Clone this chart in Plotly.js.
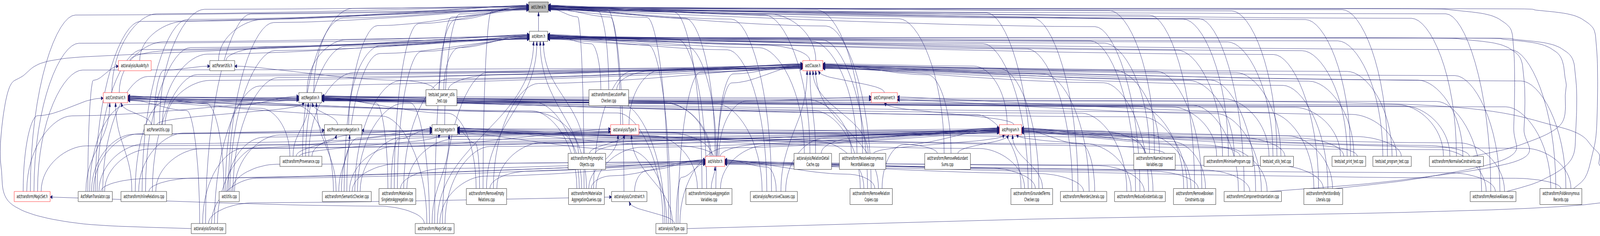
<!DOCTYPE html>
<html>
<head>
<meta charset="utf-8">
<script src="https://cdn.plot.ly/plotly-3.0.1.min.js"></script>
<style>
    html, body { margin: 0; padding: 0; background: #fff; overflow: hidden; }
    #graphDiv { width: 7811px; height: 604px; transform-origin: 0 0; }
</style>
</head>
<body>
<div id="graphDiv"></div>
<script>
// nodes of the "included by" graph of ast/Literal.h
const nodeIds = [
    'literal', 'atom', 'auxArity', 'parserUtilsH', 'clause', 'constraint', 'negation', 'component',
    'parserTest', 'execPlan', 'parserUtilsCpp', 'provNeg', 'aggregator', 'typeH', 'program',
    'provenance', 'polymorphic', 'visitor', 'relDetail', 'resolveAnon', 'redundantSums', 'nameUnnamed',
    'minimise', 'utilsTest', 'printTest', 'programTest', 'normalise',
    'magicH', 'astToRam', 'inlineRel', 'utilsCpp', 'semantic', 'singletonAgg', 'removeEmpty',
    'aggQueries', 'constraintA', 'uniqueAgg', 'recursive', 'relCopies', 'groundedTerms', 'reorder',
    'reduceEx', 'boolConstr', 'compInst', 'partition', 'resolveAliases', 'foldAnon',
    'groundCpp', 'magicCpp', 'typeCpp'
]
const nodeLabels = [
    'ast/Literal.h', 'ast/Atom.h', 'ast/analysis/AuxArity.h', 'ast/ParserUtils.h', 'ast/Clause.h',
    'ast/Constraint.h', 'ast/Negation.h', 'ast/Component.h',
    'tests/ast_parser_utils\n_test.cpp', 'ast/transform/ExecutionPlan\nChecker.cpp', 'ast/ParserUtils.cpp',
    'ast/ProvenanceNegation.h', 'ast/Aggregator.h', 'ast/analysis/Type.h', 'ast/Program.h',
    'ast/transform/Provenance.cpp', 'ast/transform/Polymorphic\nObjects.cpp', 'ast/Visitor.h',
    'ast/analysis/RelationDetail\nCache.cpp', 'ast/transform/ResolveAnonymous\nRecordsAliases.cpp',
    'ast/transform/RemoveRedundant\nSums.cpp', 'ast/transform/NameUnnamed\nVariables.cpp',
    'ast/transform/MinimiseProgram.cpp', 'tests/ast_utils_test.cpp', 'tests/ast_print_test.cpp',
    'tests/ast_program_test.cpp', 'ast/transform/NormaliseConstraints.cpp',
    'ast/transform/MagicSet.h', 'AstToRamTranslator.cpp', 'ast/transform/InlineRelations.cpp',
    'ast/Utils.cpp', 'ast/transform/SemanticChecker.cpp', 'ast/transform/Materialize\nSingletonAggregation.cpp',
    'ast/transform/RemoveEmpty\nRelations.cpp', 'ast/transform/Materialize\nAggregationQueries.cpp',
    'ast/analysis/Constraint.h', 'ast/transform/UniqueAggregation\nVariables.cpp',
    'ast/analysis/RecursiveClauses.cpp', 'ast/transform/RemoveRelation\nCopies.cpp',
    'ast/transform/GroundedTerms\nChecker.cpp', 'ast/transform/ReorderLiterals.cpp',
    'ast/transform/ReduceExistentials.cpp', 'ast/transform/RemoveBoolean\nConstraints.cpp',
    'ast/transform/ComponentInstantiation.cpp', 'ast/transform/PartitionBody\nLiterals.cpp',
    'ast/transform/ResolveAliases.cpp', 'ast/transform/FoldAnonymous\nRecords.cpp',
    'ast/analysis/Ground.cpp', 'ast/transform/MagicSet.cpp', 'ast/analysis/Type.cpp'
]
const nodeX = [
    2629, 2629, 658, 1085, 3968, 564, 1515, 4317,
    2155, 2972, 772, 1675, 2171, 3050, 4933,
    1469, 2865, 3491, 3968, 4211, 4626, 5636,
    5997, 6234, 6585, 6796, 7110,
    157, 465, 702, 1119, 1693, 1940, 2375,
    2863, 3072, 3461, 3778, 4253, 5037, 5290,
    5565, 5832, 6116, 6460, 7289, 7620,
    1018, 2122, 3278
]
const nodeRank = [
    0, 1, 2, 2, 2, 3, 3, 3,
    3, 3, 4, 4, 4, 4, 4,
    5, 5, 5, 5, 5, 5, 5,
    5, 5, 5, 5, 5,
    6, 6, 6, 6, 6, 6, 6,
    6, 6, 6, 6, 6, 6, 6,
    6, 6, 6, 6, 6, 6,
    7, 7, 7
]
// root = the documented file, trunc = node with hidden includers (red border)
const nodeKind = [
    'root', 'plain', 'trunc', 'plain', 'trunc', 'trunc', 'plain', 'trunc',
    'plain', 'plain', 'plain', 'plain', 'plain', 'trunc', 'trunc',
    'plain', 'plain', 'trunc', 'plain', 'plain', 'plain', 'plain',
    'plain', 'plain', 'plain', 'plain', 'plain',
    'trunc', 'plain', 'plain', 'plain', 'plain', 'plain', 'plain',
    'plain', 'plain', 'plain', 'plain', 'plain', 'plain', 'plain',
    'plain', 'plain', 'plain', 'plain', 'plain', 'plain',
    'plain', 'plain', 'plain'
]

// includer -> included files
const includeList = {
    atom: ['literal'],
    auxArity: ['atom', 'literal'],
    parserUtilsH: ['literal', 'atom'],
    clause: ['atom', 'literal'],
    constraint: ['literal', 'atom'],
    negation: ['atom', 'literal'],
    component: ['clause'],
    parserTest: ['parserUtilsH', 'literal', 'atom', 'clause'],
    execPlan: ['atom', 'clause', 'literal'],
    parserUtilsCpp: ['parserUtilsH', 'literal', 'atom', 'clause', 'negation', 'constraint'],
    provNeg: ['negation', 'atom'],
    aggregator: ['literal'],
    typeH: ['clause', 'literal'],
    program: ['clause', 'component'],
    provenance: ['negation', 'provNeg', 'constraint', 'literal', 'atom', 'clause', 'program', 'aggregator'],
    polymorphic: ['typeH', 'program', 'constraint', 'atom'],
    visitor: ['literal', 'atom', 'clause', 'negation', 'constraint', 'component', 'provNeg', 'aggregator', 'program'],
    relDetail: ['clause', 'atom', 'program', 'literal'],
    resolveAnon: ['clause', 'atom', 'literal', 'constraint', 'program'],
    redundantSums: ['aggregator', 'program', 'literal', 'clause'],
    nameUnnamed: ['program', 'atom', 'clause', 'literal', 'aggregator'],
    minimise: ['program', 'clause', 'atom', 'literal', 'negation'],
    utilsTest: ['program', 'clause', 'atom', 'literal', 'negation'],
    printTest: ['program', 'clause', 'atom', 'literal', 'negation', 'aggregator'],
    programTest: ['program', 'clause', 'atom', 'literal', 'component'],
    normalise: ['program', 'clause', 'atom', 'literal', 'negation', 'constraint'],
    magicH: ['literal', 'atom', 'clause', 'constraint', 'negation', 'program'],
    astToRam: ['literal', 'atom', 'clause', 'constraint', 'negation', 'provNeg', 'aggregator', 'program', 'visitor', 'auxArity', 'typeH'],
    inlineRel: ['literal', 'atom', 'clause', 'constraint', 'negation', 'aggregator', 'program', 'visitor'],
    utilsCpp: ['literal', 'atom', 'clause', 'negation', 'aggregator', 'constraint', 'program', 'visitor'],
    semantic: ['literal', 'atom', 'clause', 'negation', 'provNeg', 'aggregator', 'constraint', 'program', 'component', 'visitor', 'typeH'],
    singletonAgg: ['literal', 'atom', 'clause', 'aggregator', 'program', 'visitor', 'negation'],
    removeEmpty: ['literal', 'atom', 'clause', 'negation', 'aggregator', 'program', 'visitor'],
    aggQueries: ['literal', 'atom', 'clause', 'negation', 'aggregator', 'program', 'visitor', 'typeH', 'constraint'],
    constraintA: ['visitor', 'literal'],
    uniqueAgg: ['visitor', 'aggregator', 'literal', 'atom', 'clause', 'program'],
    recursive: ['clause', 'atom', 'literal', 'program', 'visitor', 'negation'],
    relCopies: ['clause', 'atom', 'literal', 'program', 'visitor', 'negation', 'aggregator'],
    groundedTerms: ['program', 'visitor', 'atom', 'literal', 'clause', 'aggregator', 'negation'],
    reorder: ['program', 'visitor', 'atom', 'literal', 'clause'],
    reduceEx: ['program', 'visitor', 'atom', 'literal', 'clause', 'negation', 'aggregator'],
    boolConstr: ['program', 'visitor', 'constraint', 'literal', 'clause', 'aggregator', 'negation'],
    compInst: ['program', 'component', 'clause', 'atom', 'literal', 'visitor', 'negation'],
    partition: ['program', 'visitor', 'clause', 'atom', 'literal', 'negation'],
    resolveAliases: ['program', 'visitor', 'clause', 'atom', 'literal', 'constraint', 'aggregator'],
    foldAnon: ['program', 'visitor', 'clause', 'atom', 'literal', 'constraint'],
    groundCpp: ['constraintA', 'literal', 'atom', 'clause', 'aggregator', 'visitor', 'program', 'constraint'],
    magicCpp: ['magicH', 'literal', 'atom', 'clause', 'negation', 'aggregator', 'constraint', 'program', 'visitor'],
    typeCpp: ['typeH', 'constraintA', 'literal', 'atom', 'clause', 'negation', 'aggregator', 'program', 'visitor', 'constraint', 'component']
}
// edges that dot routed round the outside of the picture
// L = round the left edge, R = along the bottom and up the right edge, U = up a lane on the right
const loopRoute = {
    'groundCpp>atom': 'L',
    'typeCpp>component': 'R',
    'partition>literal': 'U0',
    'compInst>atom': 'U1',
    'normalise>atom': 'U2',
    'resolveAliases>atom': 'U3',
    'foldAnon>literal': 'U4'
}

// layout constants (graph units = pixels of the 7811 x 604 drawing)
const WIDTH = 7811
const HEIGHT = 604
const RANK_Y = [18, 93, 168, 250, 332, 413, 503, 585]
const RIGHT_LANES = [7390, 7440, 7642, 7693, 7795]
const FONT_SIZE = 12
const PAD = 12
const EDGE_COLOR = '#191970'

// helpers
function cubic(p0, p1, p2, p3, n) {
    let out = []
    for (let k = 0; k <= n; k++) {
        let t = k / n, mt = 1 - t
        let a = mt * mt * mt, b = 3 * mt * mt * t, c = 3 * mt * t * t, d = t * t * t
        out.push([a * p0[0] + b * p1[0] + c * p2[0] + d * p3[0], a * p0[1] + b * p1[1] + c * p2[1] + d * p3[1]])
    }
    return out
}

function catmull(pts, n) {
    let out = []
    for (let i = 0; i < pts.length - 1; i++) {
        let p0 = pts[Math.max(i - 1, 0)], p1 = pts[i], p2 = pts[i + 1], p3 = pts[Math.min(i + 2, pts.length - 1)]
        for (let k = 0; k < n; k++) {
            let t = k / n, t2 = t * t, t3 = t2 * t
            let f = (j) => 0.5 * (2 * p1[j] + (-p0[j] + p2[j]) * t + (2 * p0[j] - 5 * p1[j] + 4 * p2[j] - p3[j]) * t2 + (-p0[j] + 3 * p1[j] - 3 * p2[j] + p3[j]) * t3)
            out.push([f(0), f(1)])
        }
    }
    out.push(pts[pts.length - 1])
    return out
}

// measure label widths to size the boxes
let ctx = document.createElement('canvas').getContext('2d')
ctx.font = FONT_SIZE + 'px "DejaVu Sans"'

let nodes = nodeIds.map((id, i) => {
    let lines = nodeLabels[i].split('\n')
    let w = Math.max(...lines.map(l => ctx.measureText(l).width)) + 2 * PAD
    let h = lines.length > 1 ? 41 : 26
    return { id: id, lines: lines, cx: nodeX[i], cy: RANK_Y[nodeRank[i]], w: w, h: h, rank: nodeRank[i], kind: nodeKind[i] }
})
let byId = {}
nodes.forEach(n => byId[n.id] = n)

let edges = []
for (let src in includeList) {
    for (let dst of includeList[src]) {
        edges.push({ s: byId[src], t: byId[dst], route: loopRoute[src + '>' + dst] })
    }
}

// decide where each edge meets its target
edges.forEach(e => {
    if (e.route) return
    let s = e.s, t = e.t
    let dx = s.cx - t.cx
    let d = (s.cy - s.h / 2) - (t.cy + t.h / 2)
    let blocker = nodes.find(n => n.rank === t.rank + 1 && Math.abs(n.cx - t.cx) < (n.w + t.w) / 2)
    let near = Math.abs(dx) < t.w / 2 + d * 1.0 || (s.rank - t.rank === 1 && Math.abs(dx) < 900)
    if (near && (!blocker || blocker === s)) e.mode = 'bottom'
    else e.mode = dx < 0 ? 'left' : 'right'
})

// spread start points over the top of each source, end points over the target
nodes.forEach(n => {
    let out = edges.filter(e => e.s === n && !e.route).sort((a, b) => a.t.cx - b.t.cx)
    out.forEach((e, k) => {
        e.sx = n.cx + ((k + 0.5) / out.length - 0.5) * n.w * 0.6
        e.sy = n.cy - n.h / 2
    })
    let bottom = edges.filter(e => e.t === n && e.mode === 'bottom').sort((a, b) => a.s.cx - b.s.cx)
    bottom.forEach((e, k) => {
        e.tx = n.cx + ((k + 0.5) / bottom.length - 0.5) * n.w * 0.7
        e.ty = n.cy + n.h / 2
    })
    for (let side of ['left', 'right']) {
        let group = edges.filter(e => e.t === n && e.mode === side)
            .sort((a, b) => (a.s.rank - b.s.rank) || (Math.abs(a.s.cx - n.cx) - Math.abs(b.s.cx - n.cx)))
        group.forEach((e, k) => {
            e.tx = n.cx + (side === 'left' ? -n.w / 2 : n.w / 2)
            e.ty = n.cy - n.h * 0.2 + ((k + 0.5) / group.length) * n.h * 0.5
        })
    }
})

// build the edge paths
let lineX = [], lineY = [], headX = [], headY = []
edges.forEach((e, idx) => {
    let pts
    let s = e.s, t = e.t
    if (e.route === 'L') {
        let p0 = [s.cx - s.w / 2, s.cy]
        let p3 = [t.cx - t.w / 2, t.cy + 6]
        pts = catmull([p0, [s.cx - s.w / 2 - 560, s.cy - 14], [60, HEIGHT - 80], [6, 430], [8, 330], [45, 225],
            [110, 195], [250, 155], [700, 138], [p3[0] - 400, p3[1] + 6], p3], 14)
    } else if (e.route === 'R') {
        let p0 = [s.cx + s.w / 2, s.cy]
        let p3 = [t.cx + t.w / 2, t.cy + 6]
        pts = catmull([p0, [s.cx + s.w / 2 + 1500, s.cy - 22], [WIDTH - 75, HEIGHT - 80], [WIDTH - 6, 418],
            [WIDTH - 30, 380], [WIDTH - 200, 325], [WIDTH - 900, 268], [p3[0] + 400, p3[1]], p3], 14)
    } else if (e.route && e.route[0] === 'U') {
        let lane = RIGHT_LANES[Number(e.route.slice(1))]
        let top = s.cy - s.h / 2
        let p0 = [s.cx + s.w * 0.3, top]
        let p3 = [t.cx + t.w / 2, t.cy + 4]
        pts = catmull([p0, [p0[0] + 0.5 * (lane - p0[0]), top - 28], [lane - 25, top - 80], [lane, top - 160],
            [lane, t.cy + 110], [lane - 45, t.cy + 40], [lane - 260, t.cy + 10],
            [Math.max(p3[0] + 200, lane - 900), p3[1]], p3], 14)
    } else if (e.mode === 'bottom') {
        let d = e.sy - e.ty
        pts = cubic([e.sx, e.sy], [e.sx, e.sy - d * 0.45], [e.tx, e.ty + d * 0.45], [e.tx, e.ty], 30)
    } else {
        let sign = e.mode === 'left' ? 1 : -1
        let adx = Math.abs(e.tx - e.sx)
        let d = e.sy - e.ty
        let runOff = Math.min(6 + ((idx * 29) % 10) * 4.3, d * 0.6)
        let yr = e.ty + runOff
        let w = [e.sx + sign * Math.min(adx * 0.18, 220), yr]
        let a = cubic([e.sx, e.sy], [e.sx, e.sy - (e.sy - yr) * 0.6], [w[0] - sign * Math.min(adx * 0.08, 90), yr], w, 16)
        let len = Math.abs(e.tx - w[0])
        let b = cubic(w, [w[0] + sign * len * 0.35, yr], [e.tx - sign * Math.min(len * 0.35, 160), e.ty], [e.tx, e.ty], 30)
        pts = a.concat(b.slice(1))
    }
    pts.forEach(p => { lineX.push(p[0]); lineY.push(p[1]) })
    lineX.push(null); lineY.push(null)

    // filled arrowhead at the included file
    let tip = pts[pts.length - 1]
    let back = pts[pts.length - 3]
    let ux = tip[0] - back[0], uy = tip[1] - back[1]
    let len = Math.hypot(ux, uy) || 1
    ux /= len; uy /= len
    let bx = tip[0] - ux * 10, by = tip[1] - uy * 10
    headX.push(tip[0], bx - uy * 4.5, bx + uy * 4.5, tip[0], null)
    headY.push(tip[1], by + ux * 4.5, by - ux * 4.5, tip[1], null)
})

let plotData = [
    {
        type: 'scatter',
        mode: 'lines',
        x: lineX,
        y: lineY,
        line: { color: EDGE_COLOR, width: 1 },
        hoverinfo: 'skip'
    },
    {
        type: 'scatter',
        mode: 'lines',
        x: headX,
        y: headY,
        fill: 'toself',
        fillcolor: EDGE_COLOR,
        line: { color: EDGE_COLOR, width: 1 },
        hoverinfo: 'skip'
    }
]

let shapes = nodes.map(n => ({
    type: 'rect',
    xref: 'x',
    yref: 'y',
    layer: 'above',
    x0: n.cx - n.w / 2,
    x1: n.cx + n.w / 2,
    y0: n.cy - n.h / 2,
    y1: n.cy + n.h / 2,
    fillcolor: n.kind === 'root' ? '#bfbfbf' : '#ffffff',
    line: { color: n.kind === 'trunc' ? '#ff0000' : '#000000', width: 1 }
}))

let annotations = nodes.map(n => ({
    x: n.cx,
    y: n.cy,
    xref: 'x',
    yref: 'y',
    text: n.lines.join('<br>'),
    showarrow: false,
    xanchor: 'center',
    yanchor: 'middle',
    align: 'center',
    font: { family: '"DejaVu Sans", sans-serif', size: FONT_SIZE, color: '#000000' }
}))

let plotLayout = {
    width: WIDTH,
    height: HEIGHT,
    margin: { l: 0, r: 0, t: 0, b: 0 },
    paper_bgcolor: '#ffffff',
    plot_bgcolor: '#ffffff',
    showlegend: false,
    xaxis: { range: [0, WIDTH], visible: false, fixedrange: true },
    yaxis: { range: [HEIGHT, 0], visible: false, fixedrange: true },
    shapes: shapes,
    annotations: annotations
}

// draw at full size, then fit the drawing to whatever the window really is
let graphDiv = document.getElementById('graphDiv')
let fitX = (window.innerWidth || WIDTH) / WIDTH
let fitY = (window.innerHeight || HEIGHT) / HEIGHT
if (Math.abs(fitX - 1) > 0.01 || Math.abs(fitY - 1) > 0.01) {
    graphDiv.style.transform = 'scale(' + fitX + ',' + fitY + ')'
}

Plotly.newPlot(graphDiv, plotData, plotLayout, { staticPlot: true })
</script>
</body>
</html>
